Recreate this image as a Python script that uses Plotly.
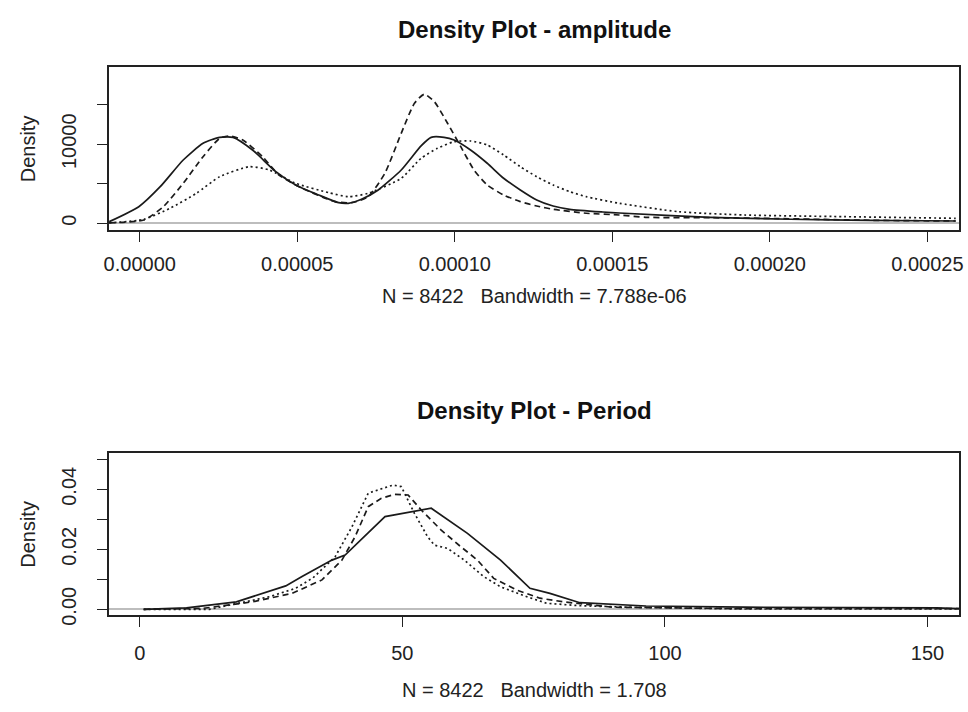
import plotly.graph_objects as go

# ---- Top panel: amplitude densities (x in raw units) ----
amp_solid_x = [-9.7e-6, -0.3e-6, 6.5e-6, 13.8e-6, 20.1e-6, 25.4e-6, 29.6e-6, 35.8e-6, 43.2e-6, 49.5e-6,
               56.8e-6, 63.1e-6, 66.2e-6, 70.4e-6, 75.7e-6, 83.0e-6, 89.3e-6, 92.5e-6, 96.6e-6, 99.8e-6,
               105.0e-6, 110.3e-6, 115.5e-6, 120.8e-6, 126.0e-6, 131.2e-6, 136.5e-6, 147.0e-6, 152.2e-6,
               181.0e-6, 206.6e-6, 231.8e-6, 259.0e-6]
amp_solid_y = [200, 2100, 4630, 8010, 10130, 10880, 10880, 9280, 6530, 4850,
               3580, 2610, 2530, 3040, 4220, 6750, 9800, 10880, 10880, 10540,
               9280, 7600, 5700, 4220, 2950, 2190, 1770, 1430, 1300,
               760, 510, 380, 290]

amp_dash_x = [-9.7e-6, 1.3e-6, 7.5e-6, 13.8e-6, 20.1e-6, 25.4e-6, 28.5e-6, 32.7e-6, 39.0e-6, 44.2e-6,
              51.6e-6, 62.0e-6, 67.3e-6, 72.5e-6, 77.8e-6, 83.0e-6, 87.2e-6, 90.3e-6, 93.5e-6, 97.7e-6,
              101.9e-6, 106.1e-6, 110.3e-6, 115.5e-6, 120.8e-6, 126.0e-6, 131.2e-6, 141.7e-6, 152.2e-6,
              160.6e-6, 181.0e-6, 202.5e-6, 231.8e-6, 259.0e-6]
amp_dash_y = [50, 420, 2100, 5060, 8430, 10760, 11050, 10540, 8430, 6110,
              4430, 2740, 2610, 3370, 6330, 11390, 15190, 16330, 15400, 12660,
              9700, 6750, 4850, 3580, 2740, 2190, 1770, 1270, 1050,
              760, 710, 600, 380, 290]

amp_dot_x = [-9.7e-6, 1.3e-6, 9.6e-6, 18.0e-6, 25.4e-6, 34.8e-6, 41.1e-6, 49.5e-6, 60.0e-6, 66.2e-6,
             72.5e-6, 83.0e-6, 89.3e-6, 94.5e-6, 99.8e-6, 105.0e-6, 110.3e-6, 115.5e-6, 120.8e-6, 126.0e-6,
             131.2e-6, 136.5e-6, 141.7e-6, 152.2e-6, 171.0e-6, 192.0e-6, 223.5e-6, 259.0e-6]
amp_dot_y = [50, 500, 1900, 3800, 5900, 7160, 6750, 5060, 3880, 3370,
             3800, 5700, 8230, 9490, 10330, 10420, 9910, 8650, 7160, 5900,
             4850, 4000, 3370, 2530, 1470, 1050, 840, 630]

# ---- Bottom panel: period densities ----
per_solid_x = [0.75, 8.9, 18.4, 27.8, 30.9, 36.6, 39.1, 46.7, 55.5, 62.4, 68.7, 74.3, 78.1, 83.8, 96.4, 115.2, 151.7, 156.0]
per_solid_y = [0.0, 0.0005, 0.0025, 0.0078, 0.0109, 0.0164, 0.0181, 0.0309, 0.0337, 0.0253, 0.0164, 0.0070, 0.0053,
               0.0022, 0.0011, 0.0007, 0.0005, 0.0002]

per_dash_x = [0.75, 12.0, 21.5, 29.0, 30.9, 34.7, 38.5, 41.0, 43.5, 46.0, 48.5, 51.1, 53.6, 57.4, 61.1, 64.3, 67.4,
              71.8, 76.2, 80.6, 90.0, 115.0, 156.0]
per_dash_y = [0.0, 0.0003, 0.0025, 0.0053, 0.0068, 0.0098, 0.0164, 0.0242, 0.0342, 0.0370, 0.0383, 0.0381, 0.0331,
              0.0264, 0.0209, 0.0164, 0.0103, 0.0064, 0.0037, 0.0025, 0.0007, 0.0002, 0.0002]

per_dot_x = [0.75, 13.3, 24.7, 29.7, 33.0, 37.2, 40.4, 43.5, 45.4, 48.2, 49.8, 52.3, 54.8, 56.1, 58.6, 61.8, 65.5,
             68.7, 73.7, 77.5, 83.8, 93.2, 115.0, 156.0]
per_dot_y = [0.0, 0.0, 0.0042, 0.0070, 0.0105, 0.0175, 0.0275, 0.0387, 0.0398, 0.0414, 0.0409, 0.0320, 0.0242,
             0.0214, 0.0203, 0.0164, 0.0109, 0.0075, 0.0042, 0.0020, 0.0012, 0.0007, 0.0001, 0.0001]

amp_tickvals = [0.0, 0.00005, 0.00010, 0.00015, 0.00020, 0.00025]
amp_ticktext = ["0.00000", "0.00005", "0.00010", "0.00015", "0.00020", "0.00025"]
amp_ytickvals = [0, 5000, 10000, 15000]
amp_yticktext = ["0", "", "10000", ""]
per_tickvals = [0, 50, 100, 150]
per_ticktext = ["0", "50", "100", "150"]
per_ytickvals = [0.0, 0.01, 0.02, 0.03, 0.04, 0.05]
per_yticktext = ["0.00", "", "0.02", "", "0.04", ""]

titles = ["Density Plot - amplitude", "Density Plot - Period"]
subtitles = ["N = 8422   Bandwidth = 7.788e-06", "N = 8422   Bandwidth = 1.708"]

FONT = "Liberation Sans, Arial, sans-serif"
LC = "#1a1a1a"
W, H = 968, 712
HY = 701.0  # effective vertical scale for pixel -> paper conversion

def fy(p):
    return 1 - p / HY

fig = go.Figure()

def add(x, y, dash, xa, ya, shape):
    fig.add_trace(go.Scatter(x=x, y=y, mode="lines", xaxis=xa, yaxis=ya,
                             line=dict(color=LC, width=1.7, dash=dash, shape=shape,
                                       smoothing=0.6 if shape == "spline" else None),
                             showlegend=False, hoverinfo="skip"))

add(amp_solid_x, amp_solid_y, "solid", "x", "y", "spline")
add(amp_dash_x, amp_dash_y, "6px,4px", "x", "y", "spline")
add(amp_dot_x, amp_dot_y, "2px,3px", "x", "y", "spline")
add(per_solid_x, per_solid_y, "solid", "x2", "y2", "linear")
add(per_dash_x, per_dash_y, "6px,4px", "x2", "y2", "linear")
add(per_dot_x, per_dot_y, "2px,3px", "x2", "y2", "linear")

xdom = [105 / W, 963 / W]
top_dom = [fy(230), fy(67)]
bot_dom = [fy(615), fy(453)]

axis_common = dict(showline=True, mirror=True, linecolor="#222", linewidth=1.6,
                   ticks="outside", ticklen=10, tickwidth=1.3, tickcolor="#222",
                   showgrid=False, tickfont=dict(family=FONT, size=20, color="#222"))

fig.update_layout(
    width=W, height=H,
    margin=dict(l=0, r=0, t=0, b=0),
    paper_bgcolor="white", plot_bgcolor="white",
    xaxis=dict(domain=xdom, anchor="y", range=[-0.00000975, 0.00026006],
               tickvals=amp_tickvals, ticktext=amp_ticktext, zeroline=False,
               ticklabelstandoff=5, **axis_common),
    yaxis=dict(domain=top_dom, anchor="x", range=[-850, 19785],
               tickvals=amp_ytickvals, ticktext=amp_yticktext, tickangle=-90,
               zeroline=True, zerolinecolor="#bdbdbd", zerolinewidth=1.6,
               ticklabelstandoff=13, **axis_common),
    xaxis2=dict(domain=xdom, anchor="y2", range=[-5.85, 156.0],
                tickvals=per_tickvals, ticktext=per_ticktext, zeroline=False,
                ticklabelstandoff=9, **axis_common),
    yaxis2=dict(domain=bot_dom, anchor="x2", range=[-0.0019, 0.0521],
                tickvals=per_ytickvals, ticktext=per_yticktext, tickangle=-90,
                zeroline=True, zerolinecolor="#bdbdbd", zerolinewidth=1.6,
                ticklabelstandoff=13, **axis_common),
)

cx = (xdom[0] + xdom[1]) / 2
ann = []
for t, py in zip(titles, [30, 410]):
    ann.append(dict(text="<b>" + t + "</b>", x=cx, y=fy(py), xref="paper", yref="paper",
                    showarrow=False, font=dict(family=FONT, size=24, color="#111"),
                    xanchor="center", yanchor="middle"))
for t, py in zip(subtitles, [296, 690]):
    ann.append(dict(text=t, x=cx, y=fy(py), xref="paper", yref="paper",
                    showarrow=False, font=dict(family=FONT, size=20, color="#222"),
                    xanchor="center", yanchor="middle"))
for py in [(67 + 230) / 2, (453 + 615) / 2]:
    ann.append(dict(text="Density", x=23 / W, y=fy(py), xref="paper", yref="paper",
                    showarrow=False, textangle=-90, font=dict(family=FONT, size=20, color="#222"),
                    xanchor="center", yanchor="middle"))
fig.update_layout(annotations=ann)

fig.write_html("out.html", config={"displayModeBar": False},
               post_script="document.body.style.margin='0';document.body.style.overflow='hidden';")
